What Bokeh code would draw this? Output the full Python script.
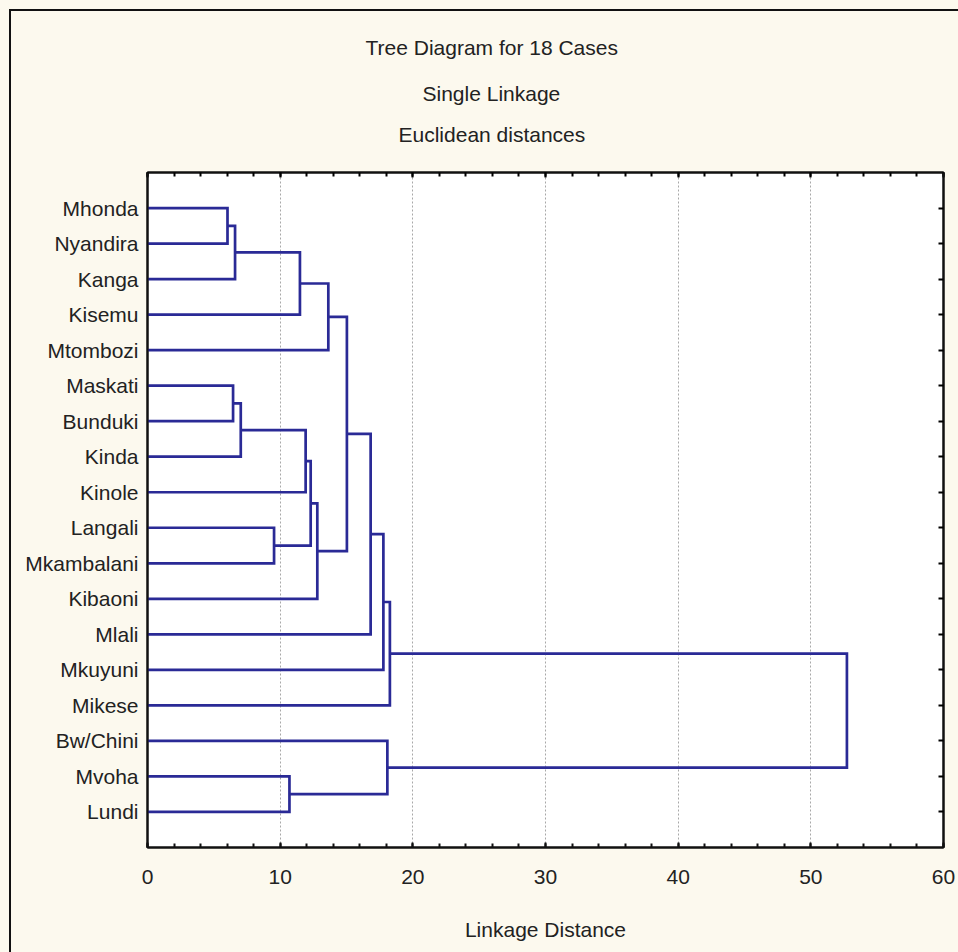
from bokeh.plotting import figure
from bokeh.models import (Range1d, LinearAxis, FixedTicker, SingleIntervalTicker, Title,
                          ColumnDataSource, CustomJSTickFormatter)
from bokeh.embed import file_html
from bokeh.resources import INLINE

# ---------------- data ----------------
leaves = ["Mhonda", "Nyandira", "Kanga", "Kisemu", "Mtombozi", "Maskati", "Bunduki",
          "Kinda", "Kinole", "Langali", "Mkambalani", "Kibaoni", "Mlali", "Mkuyuni",
          "Mikese", "Bw/Chini", "Mvoha", "Lundi"]

# merges (cluster ids: leaves 0..17, new clusters numbered 18, 19, ... in merge order)
merge_a = [0, 18, 5, 20, 9, 16, 19, 21, 25, 26, 24, 28, 29, 30, 15, 31, 33]
merge_b = [1, 2, 6, 7, 10, 17, 3, 8, 22, 11, 4, 27, 12, 13, 23, 14, 32]
merge_h = [6.03, 6.60, 6.45, 7.03, 9.54, 10.70, 11.49, 11.92, 12.30, 12.80, 13.63,
           15.03, 16.82, 17.78, 18.08, 18.27, 52.72]

x_min, x_max = 0, 60
title_lines = ["Tree Diagram for 18 Cases", "Single Linkage", "Euclidean distances"]
x_label = "Linkage Distance"

# ---------------- styling ----------------
FONT = "Liberation Sans"
FS = "21px"
TXT = "#222222"
LINE = "#2a2a96"
CREAM = "#fcf9ee"
DARK = "#111111"

n = len(leaves)
node_x = [0.0] * n
node_y = [float(n - i) for i in range(n)]
xs, ys = [], []
for a, b, h in zip(merge_a, merge_b, merge_h):
    xs.append([node_x[a], h, h, node_x[b]])
    ys.append([node_y[a], node_y[a], node_y[b], node_y[b]])
    node_x.append(h)
    node_y.append((node_y[a] + node_y[b]) / 2.0)

src = ColumnDataSource(data=dict(xs=xs, ys=ys))

p = figure(width=958, height=952, x_range=Range1d(x_min, x_max), y_range=Range1d(0, n + 1),
           output_backend="svg", toolbar_location=None, title=None,
           min_border_left=147, min_border_right=15, min_border_top=172, min_border_bottom=105,
           background_fill_color="white", border_fill_color=None)
p.outline_line_color = DARK
p.outline_line_width = 2
# cream page with the dark frame line along the top and left edges of the picture
p.styles = {"background": ("linear-gradient(#111111,#111111) 9px 9px / 2px 100% no-repeat, "
                           "linear-gradient(#111111,#111111) 9px 9px / 100% 2px no-repeat, "
                           + CREAM)}

p.multi_line(xs="xs", ys="ys", source=src, line_color=LINE, line_width=2.7, line_join="miter")

# grid
p.xgrid.ticker = SingleIntervalTicker(interval=10)
p.xgrid.grid_line_color = "#a8a8a8"
p.xgrid.grid_line_dash = "2 2"
p.xgrid.grid_line_width = 1
p.ygrid.visible = False

# bottom axis
xa = p.xaxis[0]
xa.ticker = SingleIntervalTicker(interval=10, num_minor_ticks=5)
xa.major_tick_in = 5
xa.major_tick_out = 0
xa.minor_tick_in = 4
xa.minor_tick_out = 0
xa.major_label_text_font = FONT
xa.major_label_text_font_size = FS
xa.major_label_text_color = TXT
xa.major_label_standoff = 22
xa.axis_label = x_label
xa.axis_label_text_font = FONT
xa.axis_label_text_font_size = FS
xa.axis_label_text_font_style = "normal"
xa.axis_label_text_color = TXT
xa.axis_label_standoff = 31
xa.axis_line_width = 2
xa.axis_line_color = DARK
xa.major_tick_line_color = DARK
xa.minor_tick_line_color = DARK
xa.major_tick_line_width = 2
xa.minor_tick_line_width = 2

# left axis
ya = p.yaxis[0]
leaf_y = node_y[:n]
ya.ticker = FixedTicker(ticks=leaf_y)
ya.major_label_overrides = {y: name for y, name in zip(leaf_y, leaves)}
ya.major_tick_in = 0
ya.major_tick_out = 0
ya.minor_tick_in = 0
ya.minor_tick_out = 0
ya.major_label_text_font = FONT
ya.major_label_text_font_size = FS
ya.major_label_text_color = TXT
ya.major_label_standoff = 9
ya.axis_line_width = 2
ya.axis_line_color = DARK

blank = CustomJSTickFormatter(code="return ''")

# top axis (ticks only) - nearest to the frame
ta = LinearAxis(ticker=SingleIntervalTicker(interval=10, num_minor_ticks=5), formatter=blank,
                major_tick_in=5, major_tick_out=0, minor_tick_in=4, minor_tick_out=0,
                major_label_standoff=0,
                axis_line_width=2, axis_line_color=DARK,
                major_tick_line_width=2, minor_tick_line_width=2)
p.add_layout(ta, "above")

# invisible spacer axis: leaves a gap between the frame and the title lines
spacer = LinearAxis(ticker=SingleIntervalTicker(interval=10), formatter=blank,
                    major_tick_in=0, major_tick_out=19, minor_tick_in=0, minor_tick_out=0,
                    major_label_standoff=0, axis_line_color=None,
                    major_tick_line_color=None, minor_tick_line_color=None)
p.add_layout(spacer, "above")

# right axis (ticks only)
ra = LinearAxis(ticker=FixedTicker(ticks=leaf_y), formatter=blank,
                major_tick_in=5, major_tick_out=0, minor_tick_in=0, minor_tick_out=0,
                major_label_standoff=0,
                axis_line_width=2, axis_line_color=DARK, major_tick_line_width=2)
p.add_layout(ra, "right")

# title lines, stacked upward from the frame (last line first)
title_offsets = [218, 275, 251]
title_standoffs = [27, 15, 16]
for t, off, so in reversed(list(zip(title_lines, title_offsets, title_standoffs))):
    p.add_layout(Title(text=t, align="left", offset=off, standoff=so,
                       text_font=FONT, text_font_size=FS, text_font_style="normal",
                       text_color=TXT), "above")

open("out.html", "w").write(file_html(p, INLINE))
